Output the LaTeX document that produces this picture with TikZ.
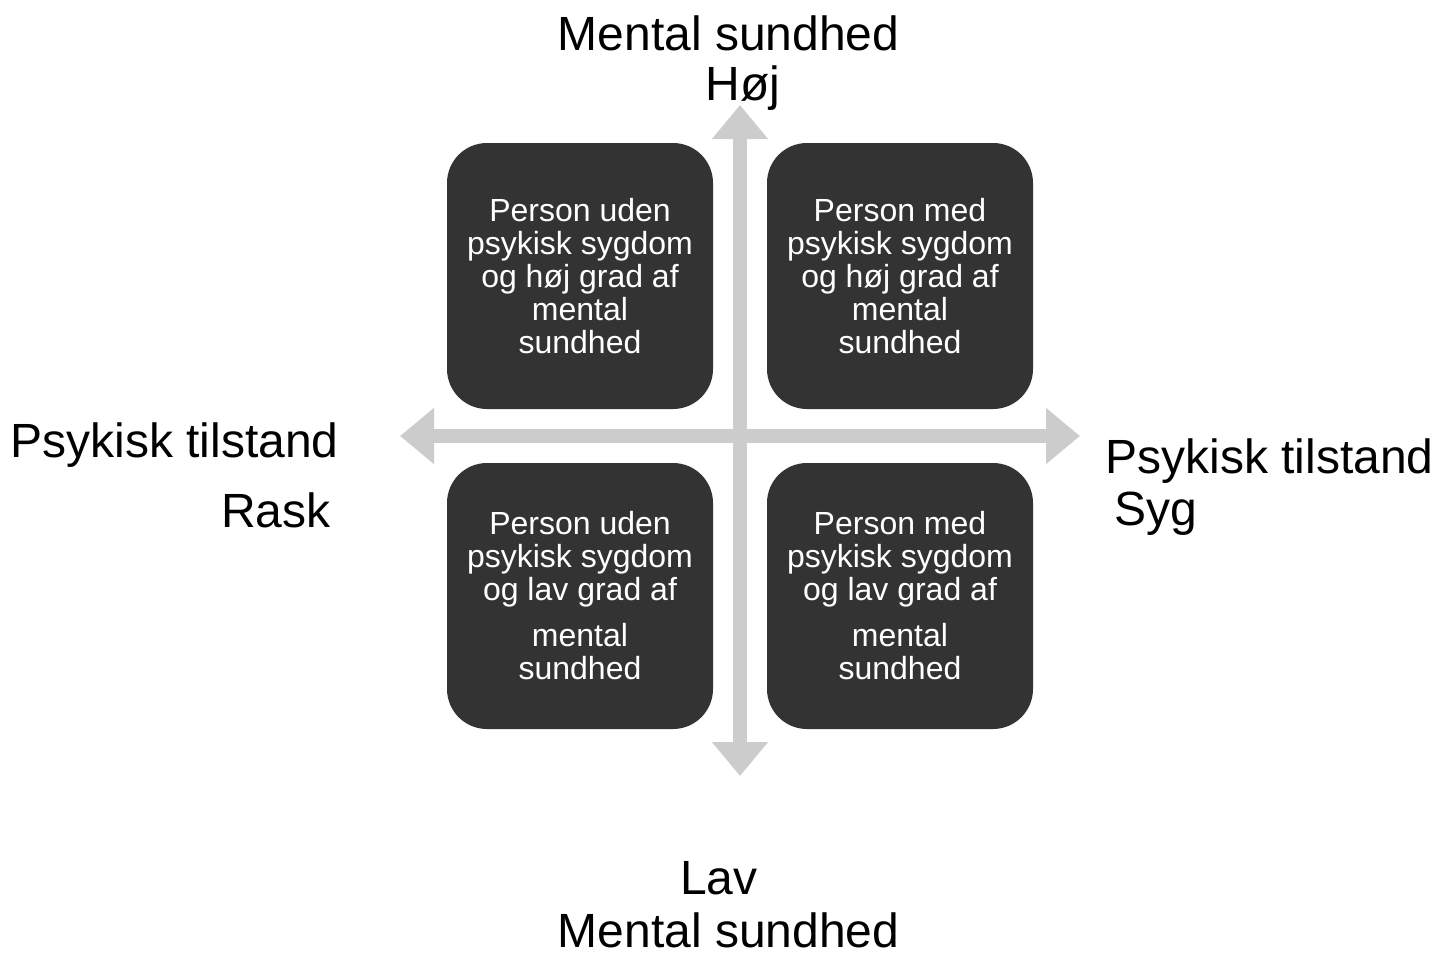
\documentclass[tikz,border=0pt]{standalone}
\usepackage{fontspec}
\setmainfont{Liberation Sans}
\usetikzlibrary{arrows.meta}
\definecolor{boxfill}{HTML}{333333}
\definecolor{axisgray}{HTML}{CCCCCC}
\tikzset{
  quad/.style={draw=none, fill=boxfill, rounded corners=20pt, minimum width=133pt, minimum height=133pt,
    inner sep=0pt, text=white, align=center, font=\fontsize{16}{16.5}\selectfont},
  axis/.style={draw=axisgray, line width=7pt,
    {Triangle[length=17pt,width=27pt]}-{Triangle[length=17pt,width=27pt]}},
  biglabel/.style={inner sep=0pt, font=\fontsize{24}{28}\selectfont, text=black}
}
\begin{document}
\begin{tikzpicture}[x=0.5pt,y=-0.5pt]
\useasboundingbox (0,0) rectangle (1437,959);
% axis end points
\coordinate (vtop) at (740,105);
\coordinate (vbot) at (740,776);
\coordinate (hleft) at (400,436);
\coordinate (hright) at (1080,436);
\draw[axis] (vbot) -- (vtop);
\draw[axis] (hleft) -- (hright);
% quadrants
\node[quad] (q1) at (580,276) {Person uden\\psykisk sygdom\\og høj grad af\\mental\\sundhed};
\node[quad] (q2) at (900,276) {Person med\\psykisk sygdom\\og høj grad af\\mental\\sundhed};
\node[quad] (q3) at (580,596) {Person uden\\psykisk sygdom\\og lav grad af\\[6.5pt]mental\\sundhed};
\node[quad] (q4) at (900,596) {Person med\\psykisk sygdom\\og lav grad af\\[6.5pt]mental\\sundhed};
% axis labels
\node[biglabel, anchor=base] (mtop) at (728.5,50) {Mental sundhed};
\node[biglabel, anchor=base] (hoej) at (743,100) {Høj};
\node[biglabel, anchor=base] (lav) at (719,894) {Lav};
\node[biglabel, anchor=base] (mbot) at (728.5,947) {Mental sundhed};
\node[biglabel, anchor=base west] (pl) at (10,457) {Psykisk tilstand};
\node[biglabel, anchor=base east] (rask) at (331,527) {Rask};
\node[biglabel, anchor=base west] (pr) at (1105,473) {Psykisk tilstand};
\node[biglabel, anchor=base west] (syg) at (1114,525) {Syg};
\end{tikzpicture}
\end{document}
